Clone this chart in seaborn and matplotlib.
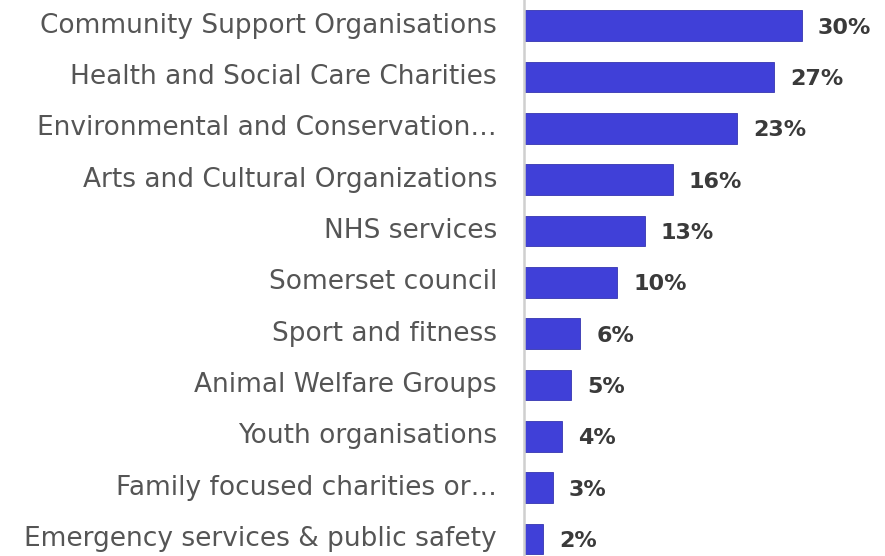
import matplotlib
matplotlib.use("Agg")
import matplotlib.pyplot as plt
import matplotlib.transforms as mtransforms
import seaborn as sns
import pandas as pd

categories = [
    "Community Support Organisations",
    "Health and Social Care Charities",
    "Environmental and Conservation\u2026",
    "Arts and Cultural Organizations",
    "NHS services",
    "Somerset council",
    "Sport and fitness",
    "Animal Welfare Groups",
    "Youth organisations",
    "Family focused charities or\u2026",
    "Emergency services & public safety",
]
shares = [30, 27, 23, 16, 13, 10, 6, 5, 4, 3, 2]

df = pd.DataFrame({"category": categories, "share": shares})

sns.set_theme(style="white")
plt.rcParams["font.family"] = ["DejaVu Sans"]

fig = plt.figure(figsize=(8.85, 5.56), dpi=100)
ax = fig.add_axes([525 / 885, 0, 360 / 885, 1])

sns.barplot(data=df, x="share", y="category", orient="h", color="#4040D8",
            saturation=1, width=0.6, edgecolor="#3535b0", linewidth=0.6, ax=ax)

ax.set_xlim(0, 360 / 9.22)
ax.set_ylim(10.33, -0.5)

# value labels to the right of each bar
for i, v in enumerate(shares):
    ax.text(v + 1.75, i, f"{v}%", va="center_baseline", ha="left", fontsize=16,
            fontweight="bold", color="#3a3a3a")

# category labels, right-aligned just left of the axis line
label_tf = ax.get_yaxis_transform() + mtransforms.ScaledTranslation(
    -0.28, 0.03, fig.dpi_scale_trans)
for i, cat in enumerate(categories):
    ax.text(0, i, cat, transform=label_tf, ha="right", va="center_baseline",
            fontsize=19, color="#555555")

ax.set_xlabel("")
ax.set_ylabel("")
ax.set_xticks([])
ax.set_yticks([])
for s in ["top", "right", "bottom"]:
    ax.spines[s].set_visible(False)
ax.spines["left"].set_color("#cfcfcf")
ax.spines["left"].set_linewidth(1.8)
ax.spines["left"].set_position(("outward", 1))

fig.savefig("out.png", dpi=100)
